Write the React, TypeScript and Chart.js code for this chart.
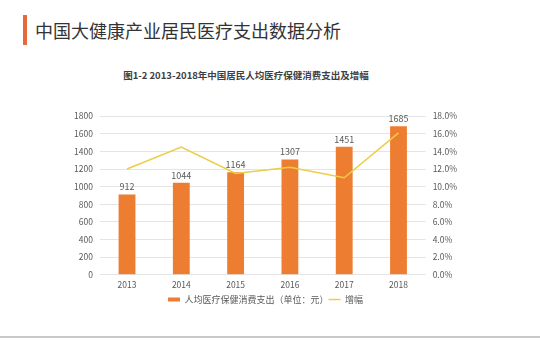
import React, { useEffect, useRef } from "react";
import { Chart, registerables } from "chart.js";

Chart.register(...registerables);

const years = ["2013", "2014", "2015", "2016", "2017", "2018"];
const spending = [912, 1044, 1164, 1307, 1451, 1685];
const growth = [12.0, 14.5, 11.5, 12.2, 11.0, 16.1];
const barLabel = "人均医疗保健消费支出（单位：元）";
const lineLabel = "增幅";
const pageTitle = "中国大健康产业居民医疗支出数据分析";
const chartTitle = "图1-2 2013-2018年中国居民人均医疗保健消费支出及增幅";

const FONT = "'Noto Sans CJK SC', 'Noto Sans', sans-serif";

const barValuePlugin = {
  id: "barValues",
  afterDatasetsDraw(chart: any) {
    const ctx = chart.ctx;
    const meta = chart.getDatasetMeta(0);
    ctx.save();
    ctx.font = `9px ${FONT}`;
    ctx.fillStyle = "#595959";
    ctx.textAlign = "center";
    ctx.textBaseline = "bottom";
    meta.data.forEach((el: any, i: number) => {
      ctx.fillText(String(spending[i]), el.x, el.y - 3);
    });
    ctx.restore();
  },
};

export default function App() {
  const ref = useRef<HTMLCanvasElement>(null);
  useEffect(() => {
    if (!ref.current) return;
    const chart = new Chart(ref.current, {
      type: "bar",
      data: {
        labels: years,
        datasets: [
          {
            type: "bar",
            label: barLabel,
            data: spending,
            backgroundColor: "#ED7D31",
            barPercentage: 0.62,
            categoryPercentage: 0.5,
            yAxisID: "y",
            order: 2,
          },
          {
            type: "line",
            label: lineLabel,
            data: growth,
            borderColor: "#EDCD45",
            borderWidth: 1.5,
            pointRadius: 0,
            tension: 0,
            yAxisID: "y1",
            order: 1,
          },
        ] as any,
      },
      options: {
        animation: false,
        responsive: false,
        maintainAspectRatio: false,
        layout: { padding: { left: 67, right: 76, top: 0, bottom: 0 } },
        plugins: {
          title: { display: false },
          tooltip: { enabled: false },
          legend: {
            position: "bottom",
            labels: {
              usePointStyle: true,
              pointStyleWidth: 12,
              boxHeight: 7,
              padding: 0,
              color: "#595959",
              font: { family: FONT, size: 9 },
              generateLabels: () => [
                { text: barLabel, pointStyle: "line", strokeStyle: "#ED7D31", fillStyle: "#ED7D31", lineWidth: 4, fontColor: "#595959", datasetIndex: 0 },
                { text: lineLabel, pointStyle: "line", strokeStyle: "#EDCD45", fillStyle: "#EDCD45", lineWidth: 1.5, fontColor: "#595959", datasetIndex: 1 },
              ] as any,
            },
          },
        },
        scales: {
          x: {
            grid: { display: false, drawTicks: false },
            border: { display: false },
            ticks: { color: "#595959", font: { family: FONT, size: 8.5 }, padding: 5 },
          },
          y: {
            position: "left",
            min: 0,
            max: 1800,
            ticks: {
              stepSize: 200,
              color: "#595959",
              font: { family: FONT, size: 8.5 },
              padding: 7,
              callback: (v: any) => String(v),
            },
            grid: { color: "#E4E4E4", drawTicks: false },
            border: { display: false },
          },
          y1: {
            position: "right",
            min: 0,
            max: 18,
            ticks: {
              stepSize: 2,
              color: "#595959",
              font: { family: FONT, size: 8.5 },
              padding: 7,
              callback: (v: any) => Number(v).toFixed(1) + "%",
            },
            grid: { display: false, drawTicks: false },
            border: { display: false },
          },
        },
      },
      plugins: [barValuePlugin],
    });
    return () => chart.destroy();
  }, []);

  return (
    <div style={{ position: "fixed", left: 0, top: 0, width: 540, height: 352, background: "#fff", fontFamily: FONT, overflow: "hidden" }}>
      <div style={{ position: "absolute", left: 23, top: 15, width: 4, height: 30, background: "#E8683A" }} />
      <div style={{ position: "absolute", left: 35, top: 17, fontSize: 18, color: "#333", lineHeight: "26px", whiteSpace: "nowrap" }}>{pageTitle}</div>
      <div style={{ position: "absolute", left: 0, width: 492, top: 68, textAlign: "center", fontSize: 9.5, fontWeight: "bold", color: "#404040", lineHeight: "14px", whiteSpace: "nowrap" }}>{chartTitle}</div>
      <div style={{ position: "absolute", left: 0, top: 104, width: 540, height: 210 }}>
        <canvas ref={ref} width={540} height={210} style={{ width: 540, height: 210 }} />
      </div>
      <div style={{ position: "absolute", left: 0, top: 336, width: 540, height: 2, background: "#C8C8C8" }} />
    </div>
  );
}
